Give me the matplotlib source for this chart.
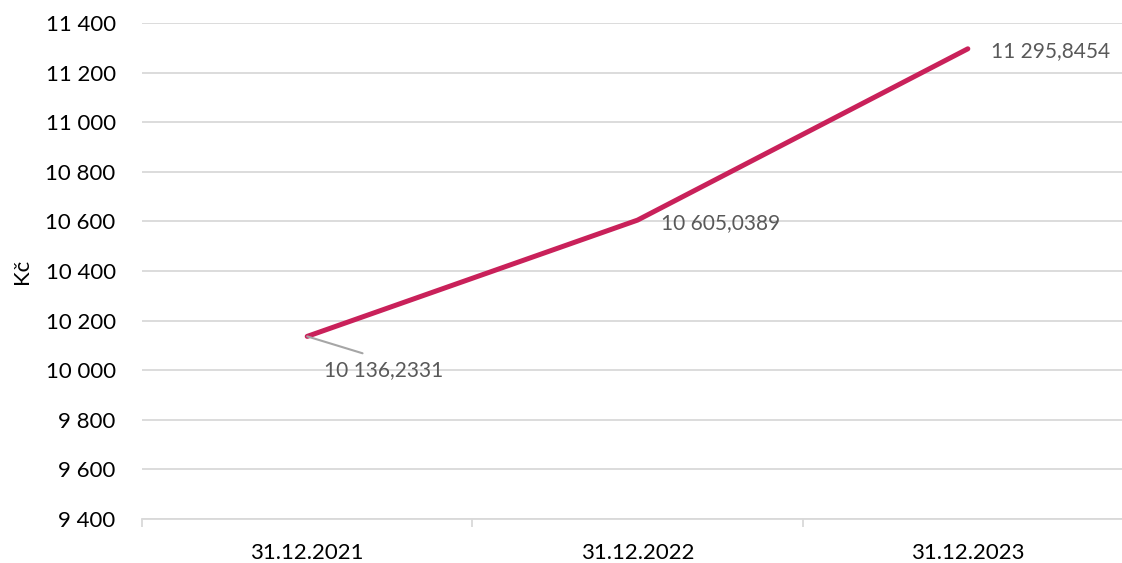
import matplotlib.pyplot as plt
from matplotlib.ticker import FuncFormatter, FixedLocator

# Hodnoty ke konci roku
datumy = ['31.12.2021', '31.12.2022', '31.12.2023']
hodnoty = [10136.2331, 10605.0389, 11295.8454]
popisky = ['10 136,2331', '10 605,0389', '11 295,8454']

plt.rcParams['font.family'] = ['Lato', 'DejaVu Sans']

fig = plt.figure(figsize=(11.22, 5.63), dpi=100)
ax = fig.add_axes([0.1266, 0.0782, 0.8832, 0.881])

x = list(range(len(datumy)))
ax.plot(x, hodnoty, color='#C9215A', linewidth=3.6, solid_capstyle='round', zorder=3)

# popisky dat
ax.annotate(popisky[0], (x[0], hodnoty[0]), xytext=(55, -24), textcoords='offset points',
            ha='center', va='center', fontsize=15, color='#595959',
            arrowprops=dict(arrowstyle='-', color='#A6A6A6', lw=1.5, shrinkA=9, shrinkB=0,
                            relpos=(0.5, 1.0)))
ax.annotate(popisky[1], (x[1], hodnoty[1]), xytext=(17, -2), textcoords='offset points',
            ha='left', va='center', fontsize=15, color='#595959')
ax.annotate(popisky[2], (x[2], hodnoty[2]), xytext=(17, -2), textcoords='offset points',
            ha='left', va='center', fontsize=15, color='#595959')

ax.set_xlim(-0.5, 2.5)
ax.set_ylim(9400, 11400)
ax.set_yticks(range(9400, 11401, 200))
ax.yaxis.set_major_formatter(FuncFormatter(lambda v, p: f'{int(v):,}'.replace(',', ' ')))
ax.set_xticks(x)
ax.set_xticklabels(datumy)
ax.xaxis.set_minor_locator(FixedLocator([-0.5, 0.5, 1.5, 2.5]))

ax.grid(axis='y', color='#D9D9D9', linewidth=1.3)
ax.set_axisbelow(True)
for s in ['top', 'right', 'left']:
    ax.spines[s].set_visible(False)
ax.spines['bottom'].set_color('#D9D9D9')
ax.spines['bottom'].set_linewidth(1.3)

ax.tick_params(axis='y', length=0, pad=19, labelsize=16, labelcolor='#000000')
ax.tick_params(axis='x', which='major', length=0, pad=17, labelsize=16)
ax.tick_params(axis='x', which='minor', length=6, width=1.3, color='#D9D9D9')

ax.set_ylabel('Kč', fontsize=16, labelpad=10)

fig.savefig('out.png', dpi=100)
